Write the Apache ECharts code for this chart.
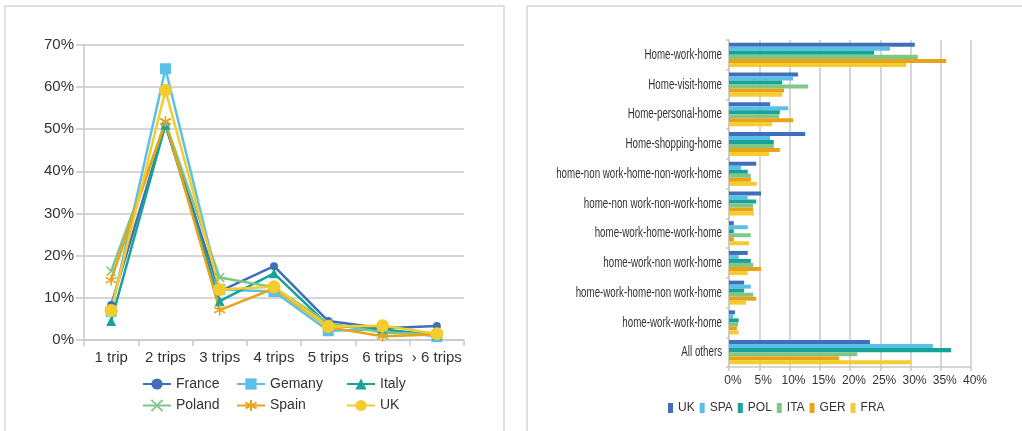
<!DOCTYPE html>
<html>
<head>
<meta charset="utf-8">
<script src="https://cdn.jsdelivr.net/npm/echarts@6/dist/echarts.min.js"></script>
<style>
  html, body { margin: 0; padding: 0; background: #fff; }
  #chart { width: 1022px; height: 431px; }
</style>
</head>
<body>
<div id="chart"></div>
<script>
// Trips per tour, share by country
const tripCategories = ['1 trip', '2 trips', '3 trips', '4 trips', '5 trips', '6 trips', '› 6 trips'];
const france  = [8.3, 51.0, 11.5, 17.5, 4.5, 2.8, 3.3];
const germany = [6.8, 64.3, 12.0, 11.5, 2.2, 2.5, 0.8];
const italy   = [4.5, 51.0, 9.2, 15.8, 3.5, 2.5, 1.2];
const poland  = [16.3, 51.5, 14.8, 12.5, 4.0, 1.8, 1.3];
const spain   = [14.2, 51.8, 7.1, 12.2, 3.0, 0.9, 1.3];
const uk      = [7.0, 59.2, 12.0, 12.6, 3.2, 3.4, 1.5];
const tripTicks = [0, 10, 20, 30, 40, 50, 60, 70];

// Tour pattern shares by country
const patterns = [
  'Home-work-home', 'Home-visit-home', 'Home-personal-home', 'Home-shopping-home',
  'home-non work-home-non-work-home', 'home-non work-non-work-home',
  'home-work-home-work-home', 'home-work-non work-home',
  'home-work-home-non work-home', 'home-work-work-home', 'All others'
];
const patternCountries = ['UK', 'SPA', 'POL', 'ITA', 'GER', 'FRA'];
const ukPat  = [30.7, 11.4, 6.8, 12.6, 4.5, 5.3, 0.8, 3.1, 2.5, 1.0, 23.3];
const spaPat = [26.6, 10.6, 9.8, 6.8, 2.0, 3.1, 3.1, 1.6, 3.6, 0.7, 33.7];
const polPat = [24.0, 8.8, 8.4, 7.4, 3.1, 4.5, 0.8, 3.6, 2.5, 1.6, 36.7];
const itaPat = [31.2, 13.1, 8.3, 7.4, 3.6, 4.0, 3.6, 4.0, 4.0, 1.5, 21.2];
const gerPat = [35.9, 9.1, 10.6, 8.4, 3.6, 4.0, 0.8, 5.3, 4.5, 1.3, 18.2];
const fraPat = [29.3, 8.8, 7.1, 6.6, 4.6, 4.1, 3.3, 3.1, 2.8, 1.6, 30.1];
const patternTicks = [0, 5, 10, 15, 20, 25, 30, 35, 40];

const C = {
  blue: '#3f6fba', sky: '#5bc0e8', teal: '#17a398',
  green: '#80c689', orange: '#e8a317', yellow: '#f5cb2e'
};
const barColors = [C.blue, C.sky, C.teal, C.green, C.orange, C.yellow];
const textColor = '#333333';
const gridColor = '#c8c8c8';
const sans = '"Liberation Sans", Arial, sans-serif';

const crossPath = 'path://M0,0L10,10M10,0L0,10';
const starPath = 'path://M5,0L5,10M0.7,2.5L9.3,7.5M0.7,7.5L9.3,2.5';

function lineSeries(name, data, color, symbol, size) {
  return {
    type: 'line', name, data, xAxisIndex: 0, yAxisIndex: 0,
    symbol, symbolSize: size, showAllSymbol: true,
    lineStyle: { color, width: 2.5 },
    itemStyle: { color, borderColor: color, borderWidth: symbol.startsWith('path') ? 1.6 : 0 },
    emphasis: { disabled: true },
    z: 3
  };
}

function barSeries(name, data, color) {
  return {
    type: 'bar', name, data, xAxisIndex: 1, yAxisIndex: 1,
    itemStyle: { color },
    barGap: '0%', barCategoryGap: '19%',
    emphasis: { disabled: true }
  };
}

const chart = echarts.init(document.getElementById('chart'), null, { renderer: 'canvas' });

const legendText = { color: textColor, fontSize: 14, fontFamily: sans };
function lineLegend(left, names) {
  return {
    data: names, orient: 'vertical', left, top: 377, padding: 0,
    itemWidth: 28, itemHeight: 14, itemGap: 7.5,
    textStyle: legendText, selectedMode: false
  };
}

chart.setOption({
  animation: false,
  grid: [
    { left: 84, top: 44.7, width: 380, height: 295.3 },
    { left: 729, top: 40, width: 242, height: 327 }
  ],
  legend: [
    lineLegend(142, ['France', 'Poland']),
    lineLegend(236, ['Gemany', 'Spain']),
    lineLegend(346, ['Italy', 'UK']),
    {
      data: patternCountries.map((n, i) => ({ name: n, itemStyle: { color: barColors[i] } })),
      left: 668, top: 402, padding: 0, itemWidth: 5, itemHeight: 10, itemGap: 5,
      icon: 'rect', selectedMode: false,
      textStyle: { color: textColor, fontSize: 12, fontFamily: sans }
    }
  ],
  xAxis: [
    {
      gridIndex: 0, type: 'category', data: tripCategories, boundaryGap: true,
      axisLine: { lineStyle: { color: gridColor, width: 1.5 } },
      axisTick: { show: true, length: 6, alignWithLabel: false, lineStyle: { color: gridColor, width: 1.5 } },
      axisLabel: { color: textColor, fontSize: 15, fontFamily: sans, margin: 10, interval: 0 }
    },
    {
      gridIndex: 1, type: 'value', min: 0, max: 40, interval: 5,
      axisLine: { show: true, lineStyle: { color: gridColor, width: 1.5 } },
      axisTick: { show: true, length: 4, lineStyle: { color: gridColor, width: 1.5 } },
      splitLine: { show: true, lineStyle: { color: gridColor, width: 1.5 } },
      axisLabel: {
        color: textColor, fontSize: 12, fontFamily: sans, margin: 8, padding: [0, 0, 0, 8],
        formatter: v => patternTicks.includes(v) ? v + '%' : ''
      }
    }
  ],
  yAxis: [
    {
      gridIndex: 0, type: 'value', min: 0, max: 70, interval: 10,
      axisLine: { show: true, lineStyle: { color: gridColor, width: 1.5 } },
      axisTick: { show: true, length: 8, lineStyle: { color: gridColor, width: 1.5 } },
      splitLine: { show: true, lineStyle: { color: gridColor, width: 1.5 } },
      axisLabel: {
        color: textColor, fontSize: 15, fontFamily: sans, margin: 10,
        formatter: v => tripTicks.includes(v) ? v + '%' : ''
      }
    },
    {
      gridIndex: 1, type: 'category', data: patterns, inverse: true,
      axisLine: { show: true, lineStyle: { color: gridColor, width: 1.5 } },
      axisTick: { show: true, length: 3, lineStyle: { color: gridColor, width: 1.5 } },
      axisLabel: { show: false }
    }
  ],
  series: [
    lineSeries('France', france, C.blue, 'circle', 8),
    lineSeries('Gemany', germany, C.sky, 'rect', 11),
    lineSeries('Italy', italy, C.teal, 'triangle', 10),
    lineSeries('Poland', poland, C.green, crossPath, 9),
    lineSeries('Spain', spain, C.orange, starPath, 11),
    lineSeries('UK', uk, C.yellow, 'circle', 13),
    barSeries('UK', ukPat, C.blue),
    barSeries('SPA', spaPat, C.sky),
    barSeries('POL', polPat, C.teal),
    barSeries('ITA', itaPat, C.green),
    barSeries('GER', gerPat, C.orange),
    barSeries('FRA', fraPat, C.yellow)
  ]
});

// Panel frames plus condensed category labels for the pattern axis,
// placed at the centres the category axis reports.
const graphics = [
  { type: 'rect', shape: { x: 5, y: 6, width: 499, height: 440 },
    style: { fill: 'none', stroke: '#d6d6d6', lineWidth: 1.5 }, silent: true },
  { type: 'rect', shape: { x: 527, y: 6, width: 510, height: 440 },
    style: { fill: 'none', stroke: '#d6d6d6', lineWidth: 1.5 }, silent: true }
];
const labelRight = chart.convertToPixel({ xAxisIndex: 1 }, 0) - 7;
patterns.forEach(p => {
  const y = chart.convertToPixel({ yAxisIndex: 1 }, p);
  graphics.push({
    type: 'text', x: labelRight, y, scaleX: 0.65, silent: true,
    style: {
      text: p, align: 'right', verticalAlign: 'middle',
      fill: textColor, fontSize: 15, fontFamily: sans
    }
  });
});
chart.setOption({ graphic: graphics });
</script>
</body>
</html>
